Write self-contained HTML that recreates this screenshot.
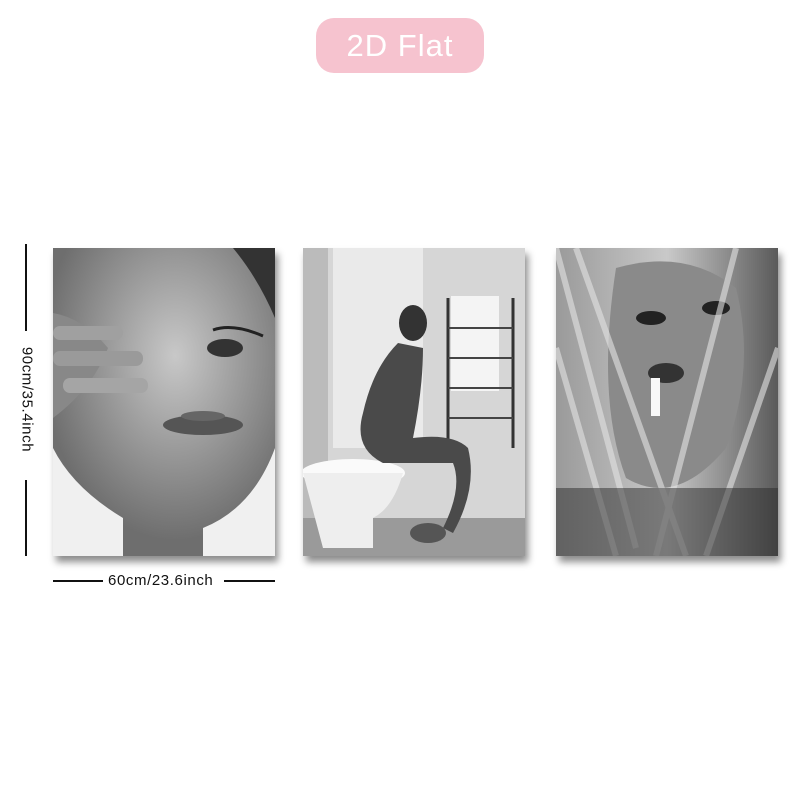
<!DOCTYPE html>
<html><head><meta charset="utf-8"><style>
body{margin:0;width:800px;height:800px;background:#fff;position:relative;overflow:hidden;font-family:"Liberation Sans",sans-serif}
.pill{position:absolute;left:316px;top:18px;width:168px;height:55px;border-radius:18px;background:#f6c3cf;color:#fff;font-size:31px;line-height:55px;text-align:center;letter-spacing:1px}
.panel{position:absolute;top:248px;width:222px;height:308px;box-shadow:3px 6px 7px rgba(0,0,0,.45);overflow:hidden}
.ln{position:absolute;background:#111}
.dim{position:absolute;font-size:15px;color:#111;letter-spacing:0.6px;white-space:nowrap}
</style></head><body>
<div class="pill">2D Flat</div>

<div class="ln" style="left:25px;top:244px;width:2px;height:87px"></div>
<div class="ln" style="left:25px;top:480px;width:2px;height:76px"></div>
<div class="dim" style="left:-33px;top:391px;width:120px;text-align:center;transform:rotate(90deg)">90cm/35.4inch</div>
<div class="ln" style="left:53px;top:580px;width:50px;height:2px"></div>
<div class="ln" style="left:224px;top:580px;width:51px;height:2px"></div>
<div class="dim" style="left:108px;top:572px">60cm/23.6inch</div>

<div class="panel" style="left:53px">
<svg width="222" height="308">
<defs><radialGradient id="f1" cx="0.55" cy="0.35" r="0.6"><stop offset="0" stop-color="#c8c8c8"/><stop offset="1" stop-color="#6e6e6e"/></radialGradient></defs>
<rect width="222" height="308" fill="#f0f0f0"/>
<path d="M0 0H222V200Q200 260 150 280V308H70V270Q20 240 0 200Z" fill="url(#f1)"/>
<path d="M180 0H222V70Q205 30 180 0Z" fill="#333"/>
<path d="M0 65Q30 70 55 100Q40 140 0 170Z" fill="#888"/>
<rect x="0" y="78" width="70" height="14" rx="7" fill="#a0a0a0"/>
<rect x="0" y="103" width="90" height="15" rx="7" fill="#9a9a9a"/>
<rect x="10" y="130" width="85" height="15" rx="7" fill="#a5a5a5"/>
<ellipse cx="172" cy="100" rx="18" ry="9" fill="#333"/>
<path d="M160 82Q180 75 210 88" stroke="#222" stroke-width="3" fill="none"/>
<ellipse cx="150" cy="177" rx="40" ry="10" fill="#555"/>
<ellipse cx="150" cy="168" rx="22" ry="5" fill="#666"/>
</svg></div>

<div class="panel" style="left:303px">
<svg width="222" height="308">
<rect width="222" height="308" fill="#d6d6d6"/>
<rect x="0" y="0" width="25" height="308" fill="#bbb"/>
<rect x="30" y="0" width="90" height="200" fill="#eaeaea"/>
<rect x="148" y="48" width="48" height="95" fill="#f4f4f4"/>
<path d="M145 50V200M210 50V200" stroke="#333" stroke-width="3"/>
<path d="M145 80H210M145 110H210M145 140H210M145 170H210" stroke="#444" stroke-width="2"/>
<rect x="0" y="270" width="222" height="38" fill="#9a9a9a"/>
<ellipse cx="50" cy="225" rx="52" ry="14" fill="#fafafa"/>
<path d="M0 225H100Q90 260 70 270V300H20Z" fill="#eee"/>
<ellipse cx="110" cy="75" rx="14" ry="18" fill="#333"/>
<path d="M95 95Q70 120 60 165Q50 200 80 215H150Q160 240 140 280L150 285Q175 240 165 200Q150 185 110 190Q120 140 120 100Z" fill="#4a4a4a"/>
<ellipse cx="125" cy="285" rx="18" ry="10" fill="#555"/>
</svg></div>

<div class="panel" style="left:556px">
<svg width="222" height="308">
<defs><linearGradient id="h3" x1="0" x2="1"><stop offset="0" stop-color="#9a9a9a"/><stop offset="0.5" stop-color="#c9c9c9"/><stop offset="1" stop-color="#5a5a5a"/></linearGradient></defs>
<rect width="222" height="308" fill="url(#h3)"/>
<path d="M60 20Q130 0 180 40Q200 120 170 200Q120 260 70 230Q40 150 60 20Z" fill="#8a8a8a"/>
<ellipse cx="95" cy="70" rx="15" ry="7" fill="#222"/>
<ellipse cx="160" cy="60" rx="14" ry="7" fill="#222"/>
<ellipse cx="110" cy="125" rx="18" ry="10" fill="#333"/>
<rect x="95" y="130" width="9" height="38" fill="#f8f8f8"/>
<path d="M0 0L80 300M20 0L130 308M180 0L100 308M222 100L150 308M0 100L60 308" stroke="#e4e4e4" stroke-width="6" opacity=".6"/>
<rect x="0" y="240" width="222" height="68" fill="#2a2a2a" opacity=".5"/>
</svg></div>
</body></html>
